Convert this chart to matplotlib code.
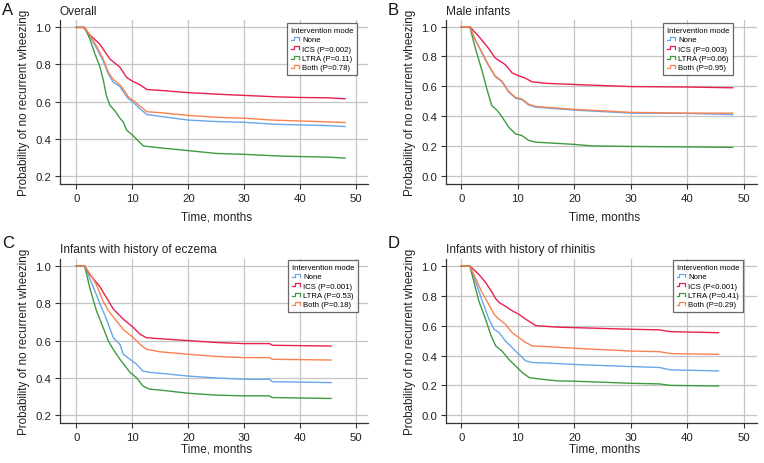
import matplotlib
matplotlib.use("Agg")
import matplotlib.pyplot as plt
from matplotlib.lines import Line2D
from matplotlib.legend_handler import HandlerBase

plt.rcParams['font.family'] = ['Liberation Sans', 'DejaVu Sans']

# ---------------- data ----------------
group_names = ["None", "ICS", "LTRA", "Both"]
colors = ["#6aa6ec", "#e8204f", "#3f9b3f", "#f98350"]

panel_letters = ["A", "B", "C", "D"]
panel_titles = ["Overall", "Male infants", "Infants with history of eczema",
                "Infants with history of rhinitis"]
legend_labels_A = ["None", "ICS (P=0.002)", "LTRA (P=0.11)", "Both (P=0.78)"]
legend_labels_B = ["None", "ICS (P=0.003)", "LTRA (P=0.06)", "Both (P=0.95)"]
legend_labels_C = ["None", "ICS (P=0.001)", "LTRA (P=0.53)", "Both (P=0.18)"]
legend_labels_D = ["None", "ICS (P<0.001)", "LTRA (P=0.41)", "Both (P=0.29)"]

# Panel A (Overall)
A_none_t = [0, 1.5, 2.4, 3.6, 4.8, 5.7, 6.6, 7.8, 8.7, 9.3, 10.2, 11.4, 12.6, 15, 20, 25, 30, 35, 40, 45, 48]
A_none_s = [1, 1, 0.955, 0.89, 0.82, 0.75, 0.705, 0.68, 0.64, 0.615, 0.595, 0.56, 0.53, 0.52, 0.50, 0.492, 0.488, 0.478, 0.474, 0.47, 0.465]
A_ics_t = [0, 1.3, 2.4, 4.2, 6, 7.8, 9, 10, 11.4, 12.6, 15, 20, 25, 30, 36, 40, 45, 48]
A_ics_s = [1, 1, 0.96, 0.91, 0.83, 0.785, 0.73, 0.71, 0.69, 0.665, 0.66, 0.648, 0.64, 0.633, 0.625, 0.622, 0.62, 0.615]
A_ltra_t = [0, 1.5, 2.4, 3.3, 4.2, 4.8, 5.4, 6, 6.9, 7.8, 8.4, 9, 10, 11, 12, 15, 20, 25, 30, 37, 45, 48]
A_ltra_s = [1, 1, 0.94, 0.86, 0.79, 0.72, 0.63, 0.58, 0.55, 0.51, 0.49, 0.445, 0.42, 0.39, 0.36, 0.35, 0.335, 0.32, 0.315, 0.305, 0.30, 0.295]
A_both_t = [0, 1.5, 2.4, 3.6, 4.8, 5.7, 6.6, 7.8, 8.7, 9.3, 10.2, 11.4, 12.6, 15, 20, 25, 30, 35, 40, 45, 48]
A_both_s = [1, 1, 0.96, 0.90, 0.83, 0.76, 0.72, 0.69, 0.655, 0.625, 0.605, 0.575, 0.545, 0.54, 0.525, 0.515, 0.51, 0.50, 0.495, 0.49, 0.487]

# Panel B (Male infants)
B_none_t = [0, 1.5, 2.5, 3.7, 4.8, 6, 7.2, 8.4, 9.6, 10.7, 11.9, 13.1, 20, 25, 30, 40, 48]
B_none_s = [1, 1, 0.91, 0.82, 0.74, 0.665, 0.63, 0.56, 0.52, 0.51, 0.475, 0.46, 0.44, 0.43, 0.42, 0.418, 0.41]
B_ics_t = [0, 1.5, 3.1, 4.8, 6, 7.8, 9, 10.2, 11.3, 12.5, 15, 20, 25, 30, 40, 48]
B_ics_s = [1, 1, 0.935, 0.856, 0.79, 0.745, 0.69, 0.67, 0.655, 0.63, 0.62, 0.612, 0.605, 0.598, 0.595, 0.59]
B_ltra_t = [0, 1.5, 2.5, 3.7, 4.5, 5.4, 6.3, 7.2, 8.4, 9.6, 10.7, 11.9, 13.1, 20, 23, 30, 40, 48]
B_ltra_s = [1, 1, 0.855, 0.70, 0.585, 0.47, 0.44, 0.395, 0.325, 0.28, 0.27, 0.237, 0.225, 0.21, 0.20, 0.196, 0.193, 0.19]
B_both_t = [0, 1.5, 2.5, 3.7, 4.8, 6, 7.2, 8.4, 9.6, 10.7, 11.9, 13.1, 20, 25, 30, 40, 48]
B_both_s = [1, 1, 0.91, 0.825, 0.745, 0.67, 0.635, 0.565, 0.525, 0.515, 0.48, 0.465, 0.445, 0.435, 0.425, 0.42, 0.42]

# Panel C (eczema)
C_none_t = [0, 1.5, 3, 4.2, 5.4, 6.6, 7.8, 8.4, 9.6, 10.8, 11.9, 13.1, 15, 20, 25, 30, 34.5, 35, 45.5]
C_none_s = [1, 1, 0.89, 0.80, 0.715, 0.616, 0.58, 0.527, 0.50, 0.473, 0.437, 0.43, 0.425, 0.41, 0.40, 0.393, 0.393, 0.38, 0.375]
C_ics_t = [0, 1.5, 2.4, 4.2, 5.4, 6.6, 8.4, 10.2, 11.4, 12.5, 15, 20, 25, 30, 34.5, 35, 45.5]
C_ics_s = [1, 1, 0.955, 0.89, 0.83, 0.77, 0.715, 0.67, 0.634, 0.616, 0.61, 0.60, 0.59, 0.584, 0.584, 0.575, 0.571]
C_ltra_t = [0, 1.5, 2.4, 3.6, 4.8, 5.7, 6.6, 7.8, 8.7, 9.6, 10.8, 11.9, 13.1, 15, 20, 25, 30, 34.5, 35, 45.5]
C_ltra_s = [1, 1, 0.885, 0.76, 0.67, 0.60, 0.553, 0.50, 0.465, 0.43, 0.40, 0.357, 0.34, 0.335, 0.318, 0.308, 0.304, 0.304, 0.295, 0.29]
C_both_t = [0, 1.5, 2.4, 3.6, 4.8, 6, 7.2, 8.4, 10.2, 11.4, 12.5, 15, 20, 25, 30, 34.5, 35, 45.5]
C_both_s = [1, 1, 0.96, 0.90, 0.81, 0.75, 0.705, 0.66, 0.616, 0.58, 0.554, 0.54, 0.527, 0.515, 0.509, 0.509, 0.50, 0.496]

# Panel D (rhinitis)
D_none_t = [0, 1.5, 2.5, 3.7, 4.9, 5.8, 6.7, 7.8, 9, 10.2, 11.4, 12.6, 15, 20, 30, 35, 37, 45.5]
D_none_s = [1, 1, 0.90, 0.766, 0.643, 0.576, 0.553, 0.498, 0.453, 0.408, 0.364, 0.353, 0.35, 0.34, 0.326, 0.32, 0.304, 0.297]
D_ics_t = [0, 1.5, 3.1, 4.3, 5.5, 6.1, 6.7, 7.8, 9, 10.2, 11.4, 13.2, 17, 20, 30, 35, 37, 45.5]
D_ics_s = [1, 1, 0.944, 0.89, 0.82, 0.78, 0.755, 0.73, 0.70, 0.676, 0.643, 0.60, 0.59, 0.587, 0.576, 0.572, 0.56, 0.553]
D_ltra_t = [0, 1.5, 2.2, 3.1, 4.3, 5.2, 6.1, 7.2, 8.4, 9.6, 10.8, 12, 13.2, 17, 20, 30, 35, 37, 45.5]
D_ltra_s = [1, 1, 0.90, 0.766, 0.643, 0.54, 0.464, 0.43, 0.375, 0.33, 0.286, 0.252, 0.246, 0.23, 0.228, 0.214, 0.21, 0.20, 0.196]
D_both_t = [0, 1.5, 2.5, 3.7, 4.9, 5.8, 6.7, 7.8, 9, 10.2, 11.4, 12.6, 15, 20, 30, 35, 37, 45.5]
D_both_s = [1, 1, 0.92, 0.82, 0.74, 0.676, 0.643, 0.61, 0.553, 0.52, 0.487, 0.464, 0.46, 0.449, 0.43, 0.426, 0.413, 0.408]

x_ticks = [0, 10, 20, 30, 40, 50]
y_ticks_AC = [0.2, 0.4, 0.6, 0.8, 1.0]
y_ticks_BD = [0.0, 0.2, 0.4, 0.6, 0.8, 1.0]

# ---------------- layout ----------------
W, H = 764, 464
fig = plt.figure(figsize=(W / 100, H / 100), dpi=100)


def fx(px):
    return px / W


def fy(py):
    return 1 - py / H


class StepHandler(HandlerBase):
    def create_artists(self, legend, orig_handle, xdescent, ydescent,
                       width, height, fontsize, trans):
        lo = -ydescent + height * 0.25
        hi = -ydescent + height * 0.75
        x0 = -xdescent
        xs = [x0, x0 + width * 0.3, x0 + width * 0.3, x0 + width * 0.85, x0 + width * 0.85]
        ys = [lo, lo, hi, hi, lo]
        ln = Line2D(xs, ys, color=orig_handle.get_color(), lw=0.9, transform=trans)
        return [ln]


panels = [
    dict(rect=(60, 21, 367.5, 185), xlim=(-2.9, 52), ylim=(0.155, 1.04), yticks=y_ticks_AC,
         series=[(A_none_t, A_none_s), (A_ics_t, A_ics_s), (A_ltra_t, A_ltra_s), (A_both_t, A_both_s)],
         labels=legend_labels_A, leg=(361, 20), letter=(2, 3), title_y=12, xlab_y=218),
    dict(rect=(446, 21, 757, 185), xlim=(-2.7, 52.3), ylim=(-0.056, 1.045), yticks=y_ticks_BD,
         series=[(B_none_t, B_none_s), (B_ics_t, B_ics_s), (B_ltra_t, B_ltra_s), (B_both_t, B_both_s)],
         labels=legend_labels_B, leg=(737, 20), letter=(388, 3), title_y=12, xlab_y=218),
    dict(rect=(60, 259.5, 367.5, 424.3), xlim=(-2.9, 52), ylim=(0.157, 1.04), yticks=y_ticks_AC,
         series=[(C_none_t, C_none_s), (C_ics_t, C_ics_s), (C_ltra_t, C_ltra_s), (C_both_t, C_both_s)],
         labels=legend_labels_C, leg=(362, 257), letter=(2, 236), title_y=250, xlab_y=450),
    dict(rect=(446, 259.5, 757, 424), xlim=(-2.7, 52.3), ylim=(-0.052, 1.05), yticks=y_ticks_BD,
         series=[(D_none_t, D_none_s), (D_ics_t, D_ics_s), (D_ltra_t, D_ltra_s), (D_both_t, D_both_s)],
         labels=legend_labels_D, leg=(747, 257), letter=(388, 236), title_y=250, xlab_y=450),
]

for i, p in enumerate(panels):
    l, t, r, b = p["rect"]
    ax = fig.add_axes([fx(l), fy(b), (r - l) / W, (b - t) / H])
    ax.set_xlim(*p["xlim"])
    ax.set_ylim(*p["ylim"])
    ax.set_xticks(x_ticks)
    ax.set_yticks(p["yticks"])
    ax.set_yticklabels([f"{v:.1f}" for v in p["yticks"]])
    ax.grid(True, color="#c4c4c4", lw=0.9)
    ax.set_axisbelow(True)
    for s in ["top", "right"]:
        ax.spines[s].set_visible(False)
    for s in ["left", "bottom"]:
        ax.spines[s].set_color("#333333")
        ax.spines[s].set_linewidth(0.9)
    ax.tick_params(axis="both", labelsize=8.2, length=3.5, width=0.8,
                   color="#333333", labelcolor="#222222", pad=3)

    handles = []
    for (t_, s_), c, lab in zip(p["series"], colors, p["labels"]):
        h, = ax.plot(t_, s_, color=c, lw=1.0, label=lab)
        handles.append(h)

    ax.set_xlabel("Time, months", fontsize=8.5, color="#222222", va="center")
    ax.set_ylabel("Probability of no recurrent wheezing", fontsize=8.4, color="#222222",
                  va="center", ha="center")
    ax.yaxis.set_label_coords(-36.0 / (r - l), 0.5)
    ax.xaxis.set_label_coords(0.51, (b - p["xlab_y"]) / (b - t))

    leg = ax.legend(handles=handles, labels=p["labels"], title="Intervention mode",
                    loc="upper right", bbox_to_anchor=(fx(p["leg"][0]), fy(p["leg"][1])),
                    bbox_transform=fig.transFigure, fontsize=5.6, title_fontsize=5.6,
                    handler_map={Line2D: StepHandler()}, handlelength=1.2, handletextpad=0.3,
                    labelspacing=0.25, borderpad=0.5, frameon=True, fancybox=False,
                    alignment="left")
    leg.get_frame().set_edgecolor("#444444")
    leg.get_frame().set_linewidth(0.9)

    fig.text(fx(l), fy(p["title_y"]), panel_titles[i], fontsize=8.6, color="#222222",
             ha="left", va="center")
    fig.text(fx(p["letter"][0]), fy(p["letter"][1]), panel_letters[i], fontsize=12,
             color="#111111", ha="left", va="top")

fig.savefig("out.png", dpi=100)
